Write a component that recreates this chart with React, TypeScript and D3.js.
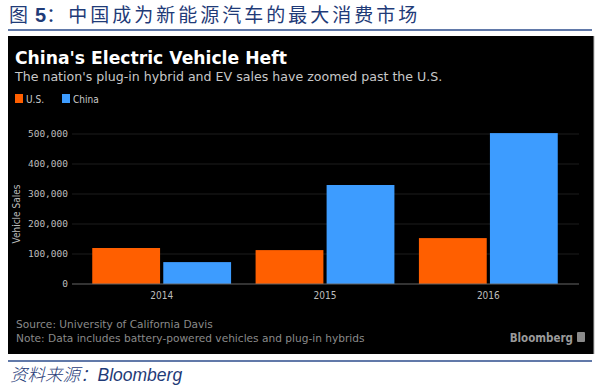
import React from "react"
import * as d3 from "d3"

const years = ["2014", "2015", "2016"]
const seriesNames = ["U.S.", "China"]
const usSales = [120000, 113000, 153000]
const chinaSales = [73000, 330000, 503000]
const yTicks = [0, 100000, 200000, 300000, 400000, 500000]

const colors: Record<string, string> = { "U.S.": "#ff5f00", China: "#3d9cff" }

export default function App() {
  const W = 600
  const H = 385
  const plot = { left: 72, right: 579, top: 134, bottom: 284 }

  const x = d3.scaleBand<string>()
    .domain(years)
    .range([80, 570])
    .paddingInner(0.15)
    .paddingOuter(0.075)

  const xs = d3.scaleBand<string>()
    .domain(seriesNames)
    .range([0, x.bandwidth()])
    .paddingInner(0.045)

  const y = d3.scaleLinear()
    .domain([0, 500000])
    .range([plot.bottom, plot.top])

  const fmt = d3.format(",")
  const rows = years.map((yr, i) => ({ year: yr, values: [usSales[i], chinaSales[i]] }))

  const mono = "'DejaVu Sans Mono', monospace"
  const sans = "'DejaVu Sans', sans-serif"
  const cond = "'DejaVu Sans Condensed', 'DejaVu Sans', sans-serif"

  return (
    <svg width={W} height={H} style={{ position: "absolute", left: 0, top: 0, background: "#fff" }}>
      {/* page heading */}
      <text x={9} y={22} fill="#1f3b78" fontFamily="'Noto Sans CJK SC', sans-serif" fontSize={19} fontWeight={400}>
        <tspan>图</tspan>
        <tspan dx={7} fontFamily="'Liberation Sans', sans-serif" fontWeight={700} fontSize={20}>5</tspan>
        <tspan letterSpacing={3}>：中国成为新能源汽车的最大消费市场</tspan>
      </text>
      <line x1={8} x2={592} y1={30} y2={30} stroke="#2c4c8c" strokeWidth={1.5} />

      {/* chart panel */}
      <rect x={8} y={36} width={586} height={318} fill="#000" />
      <line x1={594} x2={594} y1={36} y2={354} stroke="#bbb" strokeWidth={1} />

      <text x={15} y={64} fill="#fff" fontFamily={sans} fontWeight={700} fontSize={17.2}>
        China's Electric Vehicle Heft
      </text>
      <text x={15} y={81} fill="#c8c8c8" fontFamily={sans} fontSize={12.6}>
        The nation's plug-in hybrid and EV sales have zoomed past the U.S.
      </text>

      {/* legend */}
      {seriesNames.map((s, i) => (
        <g key={s} transform={`translate(${15 + i * 47},94)`}>
          <rect width={8} height={9} fill={colors[s]} />
          <text x={11} y={8.5} fill="#ccc" fontFamily={cond} fontSize={10}>{s}</text>
        </g>
      ))}

      {/* gridlines and y ticks */}
      {yTicks.map((t) => (
        <g key={t}>
          {t > 0 && (
            <line x1={plot.left} x2={plot.right} y1={y(t)} y2={y(t)} stroke="#1c1c1c" strokeWidth={1} />
          )}
          <text x={68} y={y(t)} dy="0.35em" textAnchor="end" fill="#bdbdbd" fontFamily={mono} fontSize={9.5}>
            {fmt(t)}
          </text>
        </g>
      ))}

      <text
        transform={`translate(20,${(plot.top + plot.bottom) / 2 + 5}) rotate(-90)`}
        textAnchor="middle"
        fill="#bdbdbd"
        fontFamily={cond}
        fontSize={10}
      >
        Vehicle Sales
      </text>

      {/* bars */}
      {rows.map((r) => (
        <g key={r.year} transform={`translate(${x(r.year)},0)`}>
          {seriesNames.map((s, j) => (
            <rect
              key={s}
              x={xs(s)}
              y={y(r.values[j])}
              width={xs.bandwidth()}
              height={y(0) - y(r.values[j])}
              fill={colors[s]}
            />
          ))}
          <text
            x={x.bandwidth() / 2}
            y={299}
            textAnchor="middle"
            fill="#bdbdbd"
            fontFamily={cond}
            fontSize={10}
          >
            {r.year}
          </text>
        </g>
      ))}

      <line x1={plot.left} x2={plot.right} y1={y(0)} y2={y(0)} stroke="#666" strokeWidth={1} />

      {/* footer */}
      <text x={16} y={328} fill="#8a8a8a" fontFamily={sans} fontSize={10.6}>
        Source: University of California Davis
      </text>
      <text x={16} y={342} fill="#8a8a8a" fontFamily={sans} fontSize={10.6}>
        Note: Data includes battery-powered vehicles and plug-in hybrids
      </text>
      <text x={573} y={342} textAnchor="end" fill="#9a9a9a" fontFamily={cond} fontWeight={700} fontSize={11.5}>
        Bloomberg
      </text>
      <rect x={577} y={332} width={8} height={10} rx={1} fill="#8a8a8a" />

      <line x1={8} x2={592} y1={361} y2={361} stroke="#2c4c8c" strokeWidth={1.5} />
      <text x={10} y={381} fill="#1f3b78" fontSize={17.5} fontStyle="italic">
        <tspan fontFamily="'Noto Sans CJK SC', sans-serif" fontWeight={300}>资料来源：</tspan>
        <tspan fontFamily="'Liberation Sans', sans-serif">Bloomberg</tspan>
      </text>
    </svg>
  )
}
